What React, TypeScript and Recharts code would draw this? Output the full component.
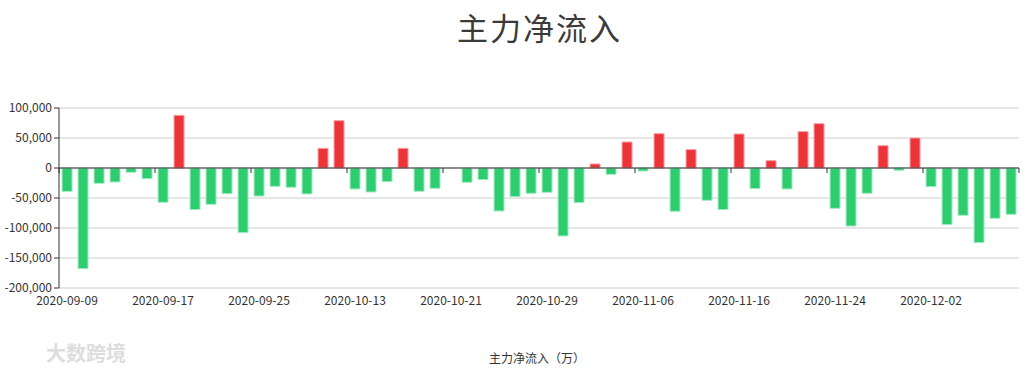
import React from 'react';
import {
  BarChart,
  Bar,
  XAxis,
  YAxis,
  CartesianGrid,
  ReferenceLine,
  Cell,
} from 'recharts';

const dates = [
  '2020-09-09', '2020-09-10', '2020-09-11', '2020-09-14', '2020-09-15', '2020-09-16',
  '2020-09-17', '2020-09-18', '2020-09-21', '2020-09-22', '2020-09-23', '2020-09-24',
  '2020-09-25', '2020-09-28', '2020-09-29', '2020-09-30', '2020-10-09', '2020-10-12',
  '2020-10-13', '2020-10-14', '2020-10-15', '2020-10-16', '2020-10-19', '2020-10-20',
  '2020-10-21', '2020-10-22', '2020-10-23', '2020-10-26', '2020-10-27', '2020-10-28',
  '2020-10-29', '2020-10-30', '2020-11-02', '2020-11-03', '2020-11-04', '2020-11-05',
  '2020-11-06', '2020-11-09', '2020-11-10', '2020-11-11', '2020-11-12', '2020-11-13',
  '2020-11-16', '2020-11-17', '2020-11-18', '2020-11-19', '2020-11-20', '2020-11-23',
  '2020-11-24', '2020-11-25', '2020-11-26', '2020-11-27', '2020-11-30', '2020-12-01',
  '2020-12-02', '2020-12-03', '2020-12-04', '2020-12-07', '2020-12-08', '2020-12-09',
];

// 主力净流入（万）
const netInflow = [
  -39000, -167800, -25600, -23300, -7200, -17800,
  -57200, 87800, -69400, -60600, -42800, -107800,
  -46700, -30600, -32200, -43300, 32800, 78900,
  -35000, -40000, -22800, 32800, -38900, -33900,
  0, -23900, -19400, -71700, -47800, -42200,
  -40600, -113300, -57800, 6700, -10600, 43300,
  -5000, 57200, -72200, 30600, -53900, -69400,
  56700, -34400, 12200, -35000, 60600, 73900,
  -67200, -96700, -42200, 37200, -3900, 50000,
  -31100, -94400, -78900, -124400, -83900, -77200,
];

const yTicks = [100000, 50000, 0, -50000, -100000, -150000, -200000];

const data = dates.map((date, i) => ({ date, value: netInflow[i] }));

const RED = '#ee3239';
const GREEN = '#2ecc71';
const FONT = '"Noto Sans CJK SC", "Noto Sans", sans-serif';

// zero axis line with tick marks at every 6th category boundary
function ZeroAxis(props: any) {
  const { x1, y1, x2 } = props;
  const band = (x2 - x1) / dates.length;
  const marks = [];
  for (let k = 0; k * 6 <= dates.length; k++) {
    const x = x1 + band * 6 * k;
    marks.push(<line key={k} x1={x} y1={y1} x2={x} y2={y1 + 5} stroke="#333" />);
  }
  return (
    <g>
      <line x1={x1} y1={y1} x2={x2} y2={y1} stroke="#333" />
      {marks}
    </g>
  );
}

export default function App() {
  return (
    <div style={{ position: 'absolute', left: 0, top: 0, width: 1029, height: 370, fontFamily: FONT, background: '#fff' }}>
      <div
        style={{
          position: 'absolute',
          left: 0,
          width: 1079,
          top: 4,
          textAlign: 'center',
          fontSize: 31,
          letterSpacing: 2,
          color: '#3a3a3a',
        }}
      >
        主力净流入
      </div>
      <BarChart
        width={1029}
        height={370}
        data={data}
        margin={{ top: 108, right: 10, bottom: 52, left: 0 }}
        barCategoryGap="19%"
      >
        <CartesianGrid vertical={false} stroke="#ccc" />
        <XAxis
          dataKey="date"
          interval={5}
          axisLine={false}
          tickLine={false}
          height={30}
          tick={{ fill: '#333', fontSize: 12, fontFamily: FONT }}
        />
        <YAxis
          width={59}
          domain={[-200000, 100000]}
          ticks={yTicks}
          tickSize={5}
          axisLine={{ stroke: '#333' }}
          tickLine={{ stroke: '#333' }}
          tick={{ fill: '#333', fontSize: 12, fontFamily: FONT }}
          tickFormatter={(v: number) => v.toLocaleString('en-US')}
        />
        <Bar dataKey="value" isAnimationActive={false} strokeWidth={1}>
          {data.map((d, i) => (
            <Cell
              key={i}
              fill={d.value >= 0 ? RED : GREEN}
              stroke={d.value >= 0 ? '#f4a0a3' : '#a8ecc4'}
            />
          ))}
        </Bar>
        <ReferenceLine y={0} shape={ZeroAxis} />
      </BarChart>
      <div
        style={{
          position: 'absolute',
          left: 0,
          width: 1074,
          top: 349,
          textAlign: 'center',
          fontSize: 12,
          color: '#333',
        }}
      >
        主力净流入（万）
      </div>
      <div
        style={{
          position: 'absolute',
          left: 46,
          top: 338,
          fontSize: 20,
          color: '#ddd',
          fontWeight: 'bold',
        }}
      >
        大数跨境
      </div>
    </div>
  );
}
